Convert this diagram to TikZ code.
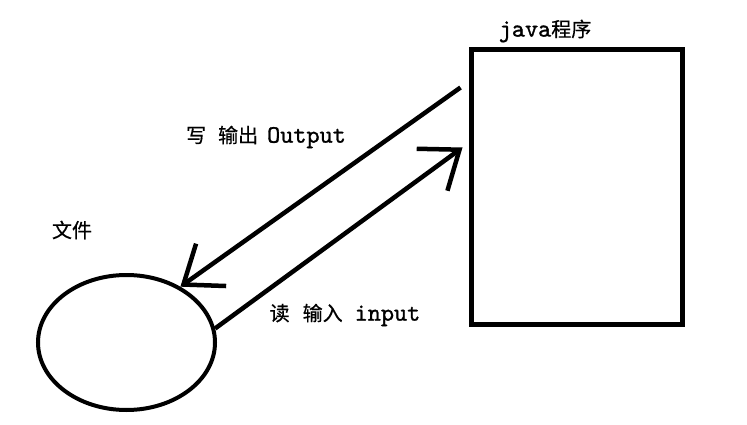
\documentclass[tikz,border=0pt]{standalone}
\usepackage{fontspec}
\newfontfamily\cjk[FakeBold=0.6]{Noto Sans CJK SC}
\newfontfamily\lat[FakeBold=1.2]{lmmono10-regular.otf}
\usetikzlibrary{arrows.meta, shapes.geometric, positioning}

\newcommand{\zh}[1]{{\cjk\fontsize{20}{24}\selectfont #1}}
\newcommand{\en}[1]{{\lat\fontsize{25}{29}\selectfont #1}}

\begin{document}
\begin{tikzpicture}[x=1pt, y=-1pt,
        conn/.style={line width=4.5pt, -{Straight Barb[length=34pt, width=52pt]}},
        txt/.style={inner sep=0pt}]
                \useasboundingbox[fill=white] (0,0) rectangle (747,425);

                \node[draw, line width=5pt, minimum width=211pt, minimum height=274pt, inner sep=0pt] (prog) at (577,187) {};
                \node[ellipse, draw, line width=4pt, minimum width=177pt, minimum height=135pt, inner sep=0pt] (file) at (126.5,342.5) {};

                \node[txt] (progname) at (545,31) {\en{java}\zh{程序}};
                \node[txt] (filename) at (72,230) {\zh{文件}};
                \node[txt] (outtext) at (266,137) {\zh{写}\hspace{12pt}\zh{输出}\hspace{9pt}\en{Output}};
                \node[txt] (intext) at (345,315) {\zh{读}\hspace{13pt}\zh{输入}\hspace{12pt}\en{input}};

                % write: program -> file
                \draw[conn] ([shift={(-8.5,40)}]prog.north west) -- (file.46);
                % read: file -> program
                \draw[conn] (file.9) -- ([shift={(-6.5,100)}]prog.north west);

\end{tikzpicture}
\end{document}
